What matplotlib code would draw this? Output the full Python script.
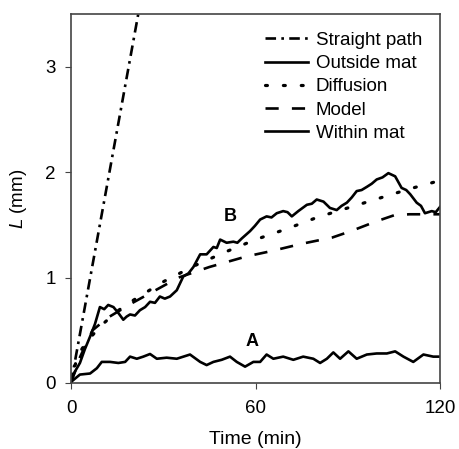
import matplotlib
matplotlib.use('Agg')
import matplotlib.pyplot as plt

plt.rcParams['font.family'] = ['Liberation Sans', 'DejaVu Sans']
plt.rcParams['mathtext.fontset'] = 'custom'
plt.rcParams['mathtext.it'] = 'Liberation Sans:italic'
plt.rcParams['mathtext.rm'] = 'Liberation Sans'

# straight path (mm vs min)
straight_t = [0, 30]
straight_L = [0, 4.8]

# diffusion prediction
diff_t = [0, 2, 5, 10, 15, 20, 30, 40, 50, 60, 70, 80, 90, 100, 110, 120]
diff_L = [0, 0.25, 0.39, 0.55, 0.68, 0.78, 0.96, 1.11, 1.24, 1.36, 1.46, 1.57, 1.66, 1.75, 1.84, 1.92]

# model prediction
model_t = [0, 3, 7, 12, 20, 30, 35, 45, 57, 65, 75, 85, 91, 99, 105, 110, 120]
model_L = [0, 0.25, 0.50, 0.62, 0.76, 0.92, 1.00, 1.10, 1.20, 1.25, 1.32, 1.38, 1.44, 1.53, 1.59, 1.60, 1.60]

# B: outside mat
outside_t = [0, 1.5, 2.9, 4.5, 6.2, 7.8, 9.4, 10.8, 12.1, 13.8, 15.5, 17, 18.1, 19.2, 20.8, 22.4, 24.1,
             25.7, 27.3, 28.9, 30.5, 32.2, 34.4, 36.5, 38.2, 39.8, 42, 44.1, 46.3, 47.4, 48.5, 50.6,
             52.8, 54.1, 55.5, 58.2, 59.8, 61.5, 63.6, 65.2, 66.9, 69, 70.4, 71.8, 73.9, 76.7, 78.3,
             79.9, 82.1, 84.2, 86.4, 88, 89.7, 91.3, 92.9, 94.5, 96.2, 97.8, 99.4, 101.3, 103.2,
             105.4, 107.5, 109, 110.3, 112.4, 113.8, 115.1, 117.3, 118.6, 120]
outside_L = [0.03, 0.12, 0.19, 0.32, 0.44, 0.56, 0.72, 0.70, 0.74, 0.72, 0.66, 0.60, 0.63, 0.65, 0.64,
             0.69, 0.72, 0.77, 0.76, 0.82, 0.80, 0.82, 0.88, 1.01, 1.04, 1.10, 1.22, 1.22, 1.29, 1.28,
             1.36, 1.33, 1.34, 1.33, 1.37, 1.44, 1.49, 1.55, 1.58, 1.57, 1.61, 1.63, 1.62, 1.58,
             1.63, 1.69, 1.70, 1.74, 1.72, 1.66, 1.64, 1.68, 1.71, 1.76, 1.82, 1.83, 1.86, 1.89,
             1.93, 1.95, 1.99, 1.96, 1.85, 1.83, 1.79, 1.71, 1.68, 1.61, 1.63, 1.62, 1.67]

# A: within mat
within_t = [0, 2.9, 6.2, 8.4, 10, 12.7, 15.4, 17.6, 19.2, 21.4, 23.5, 25.7, 27.9, 31.1, 34.4, 38.7,
            42, 44.1, 46.3, 49, 51.7, 53.9, 56.6, 59.3, 61.5, 63.6, 65.8, 69, 72.3, 75.5, 78.8, 81,
            83.2, 85.3, 87.5, 90.2, 92.9, 96.2, 99.4, 102.7, 105.4, 108.1, 111.3, 114.6, 117.8, 120]
within_L = [0.01, 0.08, 0.09, 0.14, 0.20, 0.20, 0.19, 0.20, 0.25, 0.23, 0.25, 0.275, 0.23, 0.24, 0.23,
            0.27, 0.20, 0.17, 0.20, 0.22, 0.25, 0.20, 0.155, 0.20, 0.20, 0.27, 0.23, 0.25, 0.22, 0.25,
            0.23, 0.19, 0.23, 0.29, 0.23, 0.30, 0.23, 0.27, 0.28, 0.28, 0.30, 0.25, 0.20, 0.27, 0.25, 0.25]

fig = plt.figure(figsize=(4.59, 4.49), dpi=100)
ax = fig.add_axes([0.1547, 0.147, 0.804, 0.822])

ax.plot(straight_t, straight_L, color='k', lw=1.9, linestyle=(0, (4, 2, 1, 2)), label='Straight path')
ax.plot(outside_t, outside_L, color='k', lw=1.9, label='Outside mat')
ax.plot(diff_t, diff_L, color='k', lw=2.3, linestyle=(0, (0.6, 5.0)), dash_capstyle='round', label='Diffusion')
ax.plot(model_t, model_L, color='k', lw=1.9, linestyle=(0, (5, 5)), label='Model')
ax.plot(within_t, within_L, color='k', lw=1.9, label='Within mat')

ax.text(51.7, 1.58, 'B', fontsize=13, fontweight='bold', ha='center', va='center')
ax.text(58.8, 0.39, 'A', fontsize=13, fontweight='bold', ha='center', va='center')

ax.set_xlim(0, 120)
ax.set_ylim(0, 3.5)
ax.set_xticks([0, 60, 120])
ax.set_yticks([0, 1, 2, 3])
ax.tick_params(direction='out', length=4, labelsize=13.5, color='#444444')
ax.tick_params(axis='x', pad=8)
ax.tick_params(axis='y', pad=7)
for s in ax.spines.values():
    s.set_color('#444444')
    s.set_linewidth(1.2)
ax.set_xlabel('Time (min)', fontsize=14, labelpad=10)
ax.set_ylabel('$L$ (mm)', fontsize=13.5, labelpad=12)

ax.legend(loc='upper left', bbox_to_anchor=(0.526, 0.952), frameon=False, fontsize=13.5,
          handlelength=2.3, handletextpad=0.4, labelspacing=0.33, borderpad=0, borderaxespad=0)

fig.savefig('out.png', dpi=100)
